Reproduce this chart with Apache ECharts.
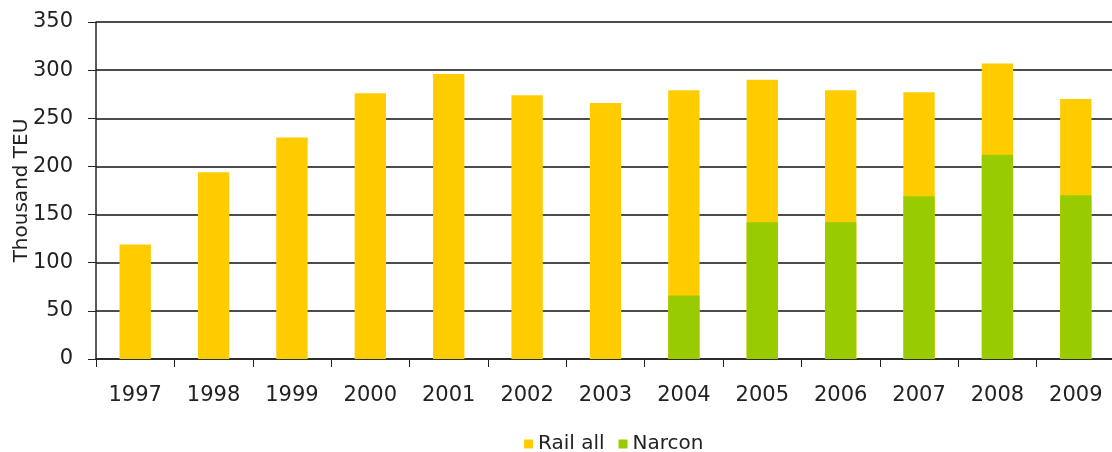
<!DOCTYPE html>
<html>
<head>
<meta charset="utf-8">
<script src="https://cdn.jsdelivr.net/npm/echarts@6/dist/echarts.min.js"></script>
<style>
  html, body { margin: 0; padding: 0; background: #fff; }
  #chart { width: 1112px; height: 452px; }
</style>
</head>
<body>
<div id="chart"></div>
<script>
const years = ['1997', '1998', '1999', '2000', '2001', '2002', '2003', '2004', '2005', '2006', '2007', '2008', '2009']
const railAll = [119, 194, 230, 276, 296, 274, 266, 279, 290, 279, 277, 307, 270]
const narcon = [null, null, null, null, null, null, null, 66, 142, 142, 169, 212, 170]
const yTicks = { min: 0, max: 350, step: 50 }

const font = 'DejaVu Sans, Verdana, sans-serif'
const chart = echarts.init(document.getElementById('chart'))

chart.setOption({
  animation: false,
  textStyle: { fontFamily: font },
  grid: {
    left: 96,
    top: 22,
    width: 1019,
    bottom: 93,
    outerBoundsMode: 'none',
    containLabel: false
  },
  legend: {
    left: 519,
    top: 429,
    itemWidth: 9,
    itemHeight: 9,
    itemGap: 14,
    icon: 'rect',
    textStyle: { fontSize: 20, color: '#222', fontFamily: font },
    data: ['Rail all', 'Narcon']
  },
  xAxis: {
    type: 'category',
    data: years,
    axisLine: { lineStyle: { color: '#222', width: 1.5 } },
    axisTick: { show: true, length: 8, interval: 0, lineStyle: { color: '#222' } },
    axisLabel: { fontSize: 21, color: '#222', margin: 26, interval: 0 }
  },
  yAxis: {
    type: 'value',
    min: yTicks.min,
    max: yTicks.max,
    interval: yTicks.step,
    name: 'Thousand TEU',
    nameLocation: 'middle',
    nameGap: 64,
    nameMoveOverlap: false,
    nameTextStyle: { fontSize: 20, color: '#222' },
    axisLine: { show: true, lineStyle: { color: '#222', width: 1.5 } },
    axisTick: { show: true, length: 8, lineStyle: { color: '#222' } },
    axisLabel: { fontSize: 21, color: '#222', margin: 23 },
    splitLine: { lineStyle: { color: '#111', width: 1.5 } }
  },
  series: [
    {
      name: 'Rail all',
      type: 'bar',
      barWidth: '40%',
      itemStyle: { color: '#FFCC00' },
      data: railAll
    },
    {
      name: 'Narcon',
      type: 'bar',
      barWidth: '40%',
      barGap: '-100%',
      itemStyle: { color: '#99CC00' },
      data: narcon
    }
  ]
})
</script>
</body>
</html>
